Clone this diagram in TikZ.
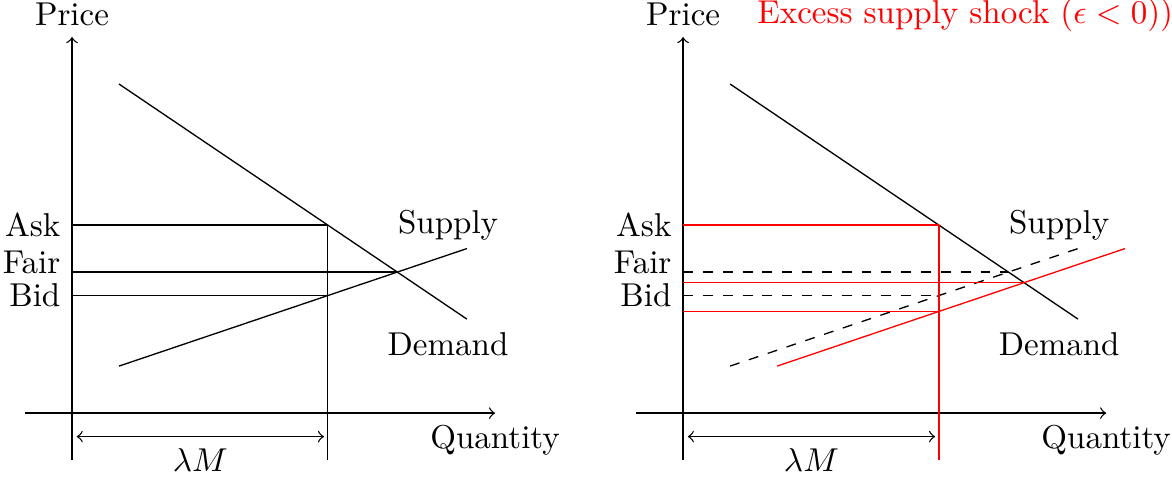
\documentclass[tikz,border=0pt]{standalone}
\usetikzlibrary{positioning}

\begin{document}
\begin{tikzpicture}[
    axis/.style={->},
    old/.style={dashed},
    shock/.style={red}
]
    \useasboundingbox (-0.766,-0.723) rectangle (11.70,4.394);

    % before the shock
    \coordinate (d1a) at (0.5,3.5);
    \coordinate (d1b) at (4.2,1);
    \coordinate (s1a) at (0.5,0.5);
    \coordinate (s1b) at (4.2,1.75);
    \coordinate (ask1) at (2.72,2);
    \coordinate (fair1) at (3.46,1.5);
    \coordinate (bid1) at (2.72,1.25);

    \draw[axis] (-0.5,0) -- (4.5,0) node[below] (qty1) {Quantity};
    \draw[axis] (0,-0.5) -- (0,4) node[above] (prc1) {Price};
    \draw (d1a) -- (d1b);
    \draw (s1a) -- (s1b);
    \node (sup1) at (4,2) {Supply};
    \node (dem1) at (4,0.73) {Demand};

    \node[left] (askl1) at (0,2) {Ask};
    \node[left] (fairl1) at (0,1.6) {Fair};
    \node[left] (bidl1) at (0,1.25) {Bid};
    \draw (0,2) -- (ask1);
    \draw (0,1.5) -- (fair1);
    \draw (0,1.25) -- (bid1);
    \draw (2.72,-0.5) -- (ask1);
    \draw[<->] (0.05,-0.25) -- node[below] (lam1) {$\lambda M$} (2.68,-0.25);

    % after the shock
    \begin{scope}[xshift=6.5cm]
        \coordinate (d2a) at (0.5,3.5);
        \coordinate (d2b) at (4.2,1);
        \coordinate (s2a) at (0.5,0.5);
        \coordinate (s2b) at (4.2,1.75);
        \coordinate (r2a) at (1,0.5);
        \coordinate (r2b) at (4.7,1.75);
        \coordinate (ask2) at (2.72,2);
        \coordinate (fair2) at (3.46,1.5);
        \coordinate (bid2) at (2.72,1.25);
        \coordinate (nfair2) at (3.627,1.387);
        \coordinate (nbid2) at (2.72,1.081);

        \draw[axis] (-0.5,0) -- (4.5,0) node[below] (qty2) {Quantity};
        \draw[axis] (0,-0.5) -- (0,4) node[above] (prc2) {Price};
        \node[anchor=base,shock] (title2) at (3,4.14) {Excess supply shock ($\epsilon < 0$))};
        \draw (d2a) -- (d2b);
        \draw[old] (s2a) -- (s2b);
        \node (sup2) at (4,2) {Supply};
        \node (dem2) at (4,0.73) {Demand};

        \node[left] (askl2) at (0,2) {Ask};
        \node[left] (fairl2) at (0,1.6) {Fair};
        \node[left] (bidl2) at (0,1.25) {Bid};
        \draw[old] (0,2) -- (ask2);
        \draw[old] (0,1.5) -- (fair2);
        \draw[old] (0,1.25) -- (bid2);

        \draw[shock] (r2a) -- (r2b);
        \draw[shock] (0,2) -- (ask2);
        \draw[shock] (0,1.387) -- (nfair2);
        \draw[shock] (0,1.081) -- (nbid2);
        \draw[shock] (2.72,-0.5) -- (ask2);
        \draw[<->] (0.05,-0.25) -- node[below] (lam2) {$\lambda M$} (2.68,-0.25);
    \end{scope}
\end{tikzpicture}
\end{document}
